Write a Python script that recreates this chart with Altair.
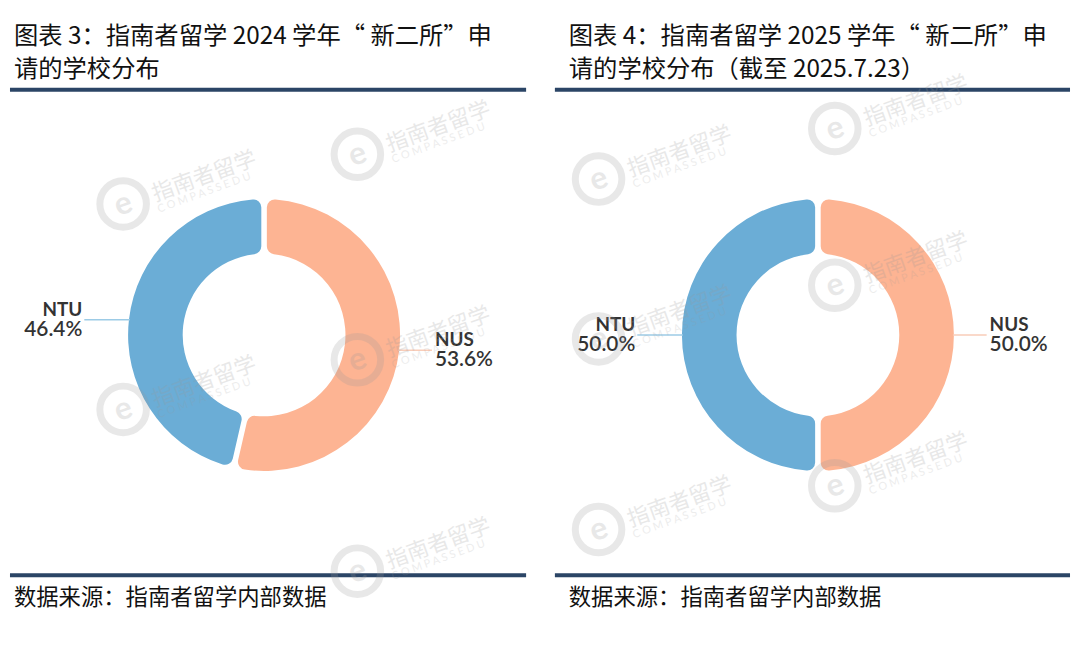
import math
import altair as alt
import pandas as pd

schools = ["NUS", "NTU"]
share_2024 = [53.6, 46.4]
share_2025 = [50.0, 50.0]
slice_colors = ["#fdb493", "#6badd6"]
leader_colors = ["#f9cdb9", "#9ccbe6"]

title_2024 = ["图表 3：指南者留学 2024 学年“ 新二所”申", "请的学校分布"]
title_2025 = ["图表 4：指南者留学 2025 学年“ 新二所”申", "请的学校分布（截至 2025.7.23）"]
source_text = "数据来源：指南者留学内部数据"
wm_cn = "指南者留学"
wm_en = "C O M P A S S E D U"

# watermark anchor points (panel pixel coords: logo centre)
wm_left = [(114, 195), (350, 145), (350, 352), (114, 402), (350, 565)]
wm_right = [(282, 119), (44, 170), (282, 277), (44, 331), (282, 479), (44, 523)]

CJK = "Noto Sans CJK SC"
NAVY = "#2b4566"
H = 640
R_OUT, R_IN = 137, 82
WM_ANGLE = 340
WM_COLOR = "#999999"
WM_OPACITY = 0.22


def watermarks(points):
    rot = math.radians(WM_ANGLE - 360)
    df = pd.DataFrame({
        "x": [p[0] for p in points], "y": [p[1] for p in points],
        "cx": [p[0] + 30 for p in points], "cy": [p[1] - 9 for p in points],
        "ex": [p[0] + 35 for p in points], "ey": [p[1] + 6 for p in points],
        "cn": [wm_cn] * len(points), "en": [wm_en] * len(points), "e": ["e"] * len(points)})
    base = alt.Chart(df)
    ring = base.mark_point(shape="circle", filled=False, size=2200, strokeWidth=7,
                           color=WM_COLOR, opacity=WM_OPACITY).encode(
        x=alt.X("x:Q", scale=None), y=alt.Y("y:Q", scale=None))
    e = base.mark_text(font="Lato", fontSize=32, fontWeight="bold", color=WM_COLOR,
                       opacity=WM_OPACITY, angle=WM_ANGLE, baseline="middle").encode(
        x=alt.X("x:Q", scale=None), y=alt.Y("y:Q", scale=None), text="e:N")
    cn = base.mark_text(font=CJK, fontSize=22, color=WM_COLOR, opacity=WM_OPACITY, angle=WM_ANGLE,
                        align="left", baseline="middle").encode(
        x=alt.X("cx:Q", scale=None), y=alt.Y("cy:Q", scale=None), text="cn:N")
    en = base.mark_text(font="Lato", fontSize=11, color=WM_COLOR, opacity=WM_OPACITY * 0.8,
                        angle=WM_ANGLE, align="left", baseline="middle").encode(
        x=alt.X("ex:Q", scale=None), y=alt.Y("ey:Q", scale=None), text="en:N")
    return [ring, e, cn, en]


def panel(shares, title_lines, W, cx, cy, tx, wm_points):
    df = pd.DataFrame({"school": schools, "share": shares, "k": list(range(len(schools)))})
    layers = []

    for i, t in enumerate(title_lines):
        layers.append(
            alt.Chart(pd.DataFrame({"t": [t]})).mark_text(
                font=CJK, fontSize=24.5, color="#111111", align="left", baseline="middle"
            ).encode(text="t:N", x=alt.value(tx), y=alt.value(27 + 33 * i))
        )
    for yy in (80, 569):
        layers.append(
            alt.Chart(pd.DataFrame({"a": [0]})).mark_rule(color=NAVY, strokeWidth=4).encode(
                x=alt.value(0), x2=alt.value(W), y=alt.value(yy)
            )
        )
    layers.append(
        alt.Chart(pd.DataFrame({"t": [source_text]})).mark_text(
            font=CJK, fontSize=22.5, color="#111111", align="left", baseline="middle"
        ).encode(text="t:N", x=alt.value(tx), y=alt.value(592))
    )

    layers.append(
        alt.Chart(df).mark_arc(
            outerRadius=R_OUT, innerRadius=R_IN, padAngle=0.035, cornerRadius=8
        ).encode(
            theta=alt.Theta("share:Q", stack=True),
            color=alt.Color("school:N", scale=alt.Scale(domain=schools, range=slice_colors), legend=None),
            order=alt.Order("k:Q"),
            x=alt.value(cx),
            y=alt.value(cy),
        )
    )

    total = sum(shares)
    cum = 0.0
    for i, (name, s) in enumerate(zip(schools, shares)):
        mid = (cum + s / 2) / total * 2 * math.pi
        cum += s
        ex = cx + (R_OUT - 1) * math.sin(mid)
        ey = cy - (R_OUT - 1) * math.cos(mid)
        right = math.sin(mid) >= 0
        lx = ex + (34 if right else -46)
        ldf = pd.DataFrame({"x": [min(ex, lx)], "x2": [max(ex, lx)], "y": [ey],
                            "name": [name], "pct": [f"{s:.1f}%"]})
        layers.append(
            alt.Chart(ldf).mark_rule(color=leader_colors[i], strokeWidth=1.5).encode(
                x=alt.X("x:Q", scale=None), x2="x2:Q", y=alt.Y("y:Q", scale=None)
            )
        )
        tx_lab = lx + 3 if right else lx - 2
        al = "left" if right else "right"
        layers.append(
            alt.Chart(ldf).mark_text(
                font="Lato", fontSize=19, fontWeight="bold", color="#333333",
                align=al, baseline="middle", dy=-10
            ).encode(text="name:N", x=alt.value(tx_lab), y=alt.Y("y:Q", scale=None))
        )
        layers.append(
            alt.Chart(ldf).mark_text(
                font="Lato", fontSize=21, fontWeight=600, color="#333333",
                align=al, baseline="middle", dy=10
            ).encode(text="pct:N", x=alt.value(tx_lab), y=alt.Y("y:Q", scale=None))
        )

    layers.extend(watermarks(wm_points))
    return alt.layer(*layers).properties(width=W, height=H)


left = panel(share_2024, title_2024, 520, 256, 327, 4, wm_left)
right = panel(share_2025, title_2025, 519, 265, 327, 14, wm_right)

chart = alt.hconcat(left, right, spacing=25).properties(
    padding={"left": 0, "top": 0, "right": 0, "bottom": 0}
).configure(
    background="white",
    view=alt.ViewConfig(strokeWidth=0, stroke="transparent"),
)

chart.save("out.html", embed_options={"renderer": "svg", "actions": False})
